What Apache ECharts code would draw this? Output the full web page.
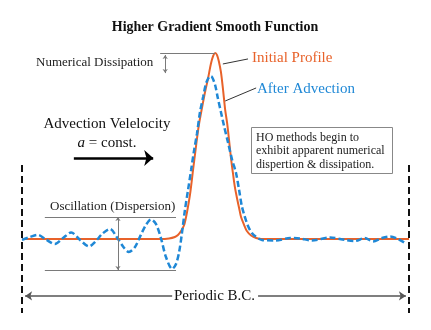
<!DOCTYPE html>
<html>
<head>
<meta charset="utf-8">
<script src="https://cdn.jsdelivr.net/npm/echarts@6/dist/echarts.min.js"></script>
<style>
  html, body { margin: 0; padding: 0; background: #fff; }
  #chart { width: 431px; height: 330px; }
</style>
</head>
<body>
<div id="chart"></div>
<script>
// position across the periodic domain (0..100) and profile height (peak = 1)
const initialX = [0, 35.7, 38.0, 39.5, 40.3, 41.1, 41.9, 42.6, 43.4, 44.2, 45.0, 45.7, 46.5, 47.3, 48.1, 48.8, 49.4, 49.9,
  50.4, 50.9, 51.4, 51.9, 52.5, 53.0, 53.5, 54.0, 54.5, 55.0, 55.6, 56.1, 56.6, 57.4, 58.1, 59.2, 60.5, 62.0, 100];
const initialY = [0, 0, 0.003, 0.011, 0.022, 0.043, 0.075, 0.140, 0.237, 0.371, 0.505, 0.613, 0.704, 0.790, 0.866, 0.941, 0.984, 1.0,
  0.989, 0.952, 0.898, 0.812, 0.694, 0.624, 0.532, 0.435, 0.355, 0.280, 0.215, 0.167, 0.118, 0.075, 0.043, 0.019, 0.005, 0, 0];

const advectedX = [0, 2.1, 4.1, 6.2, 8.5, 10.6, 12.7, 15.0, 17.3, 19.1, 20.7, 22.7, 24.8, 26.4, 27.6, 29.2, 30.7, 32.0, 33.3,
  34.6, 35.9, 37.2, 38.8, 39.8, 40.6, 41.3, 42.1, 42.9, 43.7, 44.4, 45.2, 46.0, 46.8, 47.5, 48.1, 48.6, 49.1, 49.9, 50.6,
  51.4, 52.2, 53.2, 54.3, 55.3, 56.1, 56.8, 57.6, 58.4, 59.4, 60.7, 62.0, 65.4, 69.3, 71.8, 74.9, 79.6, 83.5, 86.0, 88.6,
  90.7, 93.0, 95.1, 97.2, 99.0];
const advectedY = [-0.005, 0.011, 0.022, -0.003, -0.027, 0.005, 0.035, -0.005, -0.040, -0.011, 0.027, 0.054, 0, -0.048, -0.070,
  -0.043, 0.022, 0.075, 0.105, 0.081, 0.005, -0.097, -0.161, -0.134, -0.070, 0.027, 0.156, 0.263, 0.371, 0.468, 0.565,
  0.683, 0.763, 0.833, 0.863, 0.876, 0.871, 0.828, 0.758, 0.683, 0.608, 0.522, 0.425, 0.355, 0.263, 0.177, 0.118, 0.070,
  0.032, 0.008, -0.005, -0.008, 0.005, 0.003, -0.008, 0.008, -0.005, -0.011, 0.005, -0.013, 0.005, 0.013, 0, -0.022];

// annotation levels
const dissipationTop = 1.0;
const dissipationLow = 0.876;
const oscTop = 0.118;
const oscBottom = -0.167;
const bcLevel = -0.306;

const orange = '#e8622a';
const blue = '#1f88d6';
const gray = '#7a7a7a';
const serif = '"Liberation Serif", "DejaVu Serif", serif';

const chart = echarts.init(document.getElementById('chart'));

const pair = (xs, ys) => xs.map((x, i) => [x, ys[i]]);

const seg = (a, b, style, startSym, endSym, size) => [
  { coord: a, symbol: startSym || 'none', symbolSize: size || 6, lineStyle: style },
  { coord: b, symbol: endSym || 'none', symbolSize: size || 6 },
];

const thin = { color: gray, width: 1, type: 'solid' };

chart.setOption({
  animation: false,
  grid: { left: 22, right: 22, top: 53, bottom: 16.6 },
  xAxis: { type: 'value', min: 0, max: 100, show: false },
  yAxis: { type: 'value', min: -0.4, max: 1.0, show: false },
  graphic: [
    { type: 'text', x: 215, y: 27, style: { text: 'Higher Gradient Smooth Function', font: 'bold 14px ' + serif, fill: '#111', textAlign: 'center', textVerticalAlign: 'middle' } },
    { type: 'text', x: 36, y: 63, style: { text: 'Numerical Dissipation', font: '13px ' + serif, fill: '#222', textAlign: 'left', textVerticalAlign: 'middle' } },
    { type: 'text', x: 252, y: 58, style: { text: 'Initial Profile', font: '15px ' + serif, fill: orange, textAlign: 'left', textVerticalAlign: 'middle' } },
    { type: 'text', x: 257, y: 89, style: { text: 'After Advection', font: '15px ' + serif, fill: blue, textAlign: 'left', textVerticalAlign: 'middle' } },
    { type: 'text', x: 107, y: 124, style: { text: 'Advection Velelocity', font: '15px ' + serif, fill: '#111', textAlign: 'center', textVerticalAlign: 'middle' } },
    {
      type: 'text', x: 107, y: 143,
      style: {
        text: '{i|a} = const.', font: '15px ' + serif, fill: '#111', textAlign: 'center', textVerticalAlign: 'middle',
        rich: { i: { fontStyle: 'italic', fontFamily: serif, fontSize: 15, fill: '#111' } },
      },
    },
    { type: 'text', x: 50, y: 207, style: { text: 'Oscillation (Dispersion)', font: '13px ' + serif, fill: '#222', textAlign: 'left', textVerticalAlign: 'middle' } },
    { type: 'rect', shape: { x: 251.5, y: 127.5, width: 141, height: 46 }, style: { fill: '#fff', stroke: '#888', lineWidth: 1 } },
    {
      type: 'text', x: 256, y: 131,
      style: {
        text: 'HO methods begin to\nexhibit apparent numerical\ndispertion & dissipation.',
        font: '12px ' + serif, lineHeight: 13.5, fill: '#222', textAlign: 'left', textVerticalAlign: 'top',
      },
    },
    { type: 'text', x: 214.5, y: 296, style: { text: 'Periodic B.C.', font: '15px ' + serif, fill: '#111', textAlign: 'center', textVerticalAlign: 'middle' } },
  ],
  series: [
    {
      name: 'Initial Profile',
      type: 'line',
      data: pair(initialX, initialY),
      showSymbol: false,
      smooth: 0.3,
      lineStyle: { color: orange, width: 2 },
      z: 3,
      markLine: {
        silent: true,
        symbol: 'none',
        label: { show: false },
        data: [
          // dissipation marker
          seg([35.7, dissipationTop], [49.9, dissipationTop], thin),
          seg([37.0, 0.989], [37.0, dissipationLow + 0.016], thin, 'arrow', 'arrow', 4),
          // oscillation bracket
          seg([5.9, oscTop], [39.8, oscTop], thin),
          seg([5.9, oscBottom], [39.8, oscBottom], thin),
          seg([24.8, oscTop], [24.8, oscBottom], thin, 'arrow', 'arrow', 4),
          // leaders
          seg([51.9, 0.941], [58.4, 0.968], { color: '#333', width: 1, type: 'solid' }),
          seg([52.5, 0.742], [60.5, 0.812], { color: '#333', width: 1, type: 'solid' }),
          // advection velocity arrow
          seg([13.4, 0.435], [33.9, 0.435], { color: '#000', width: 2.5, type: 'solid' }, 'none', 'arrow', [12, 9]),
          // periodic boundaries
          seg([0, 0.398], [0, -0.398], { color: '#111', width: 2, type: [7, 4] }),
          seg([100, 0.398], [100, -0.398], { color: '#111', width: 2, type: [7, 4] }),
          seg([38.8, bcLevel], [0.8, bcLevel], { color: '#555', width: 1.5, type: 'solid' }, 'none', 'arrow', [7, 7]),
          seg([61.0, bcLevel], [99.2, bcLevel], { color: '#555', width: 1.5, type: 'solid' }, 'none', 'arrow', [7, 7]),
        ],
      },
    },
    {
      name: 'After Advection',
      type: 'line',
      data: pair(advectedX, advectedY),
      showSymbol: false,
      smooth: 0.3,
      lineStyle: { color: blue, width: 2.5, type: [6, 3] },
      z: 4,
    },
  ],
});
</script>
</body>
</html>
